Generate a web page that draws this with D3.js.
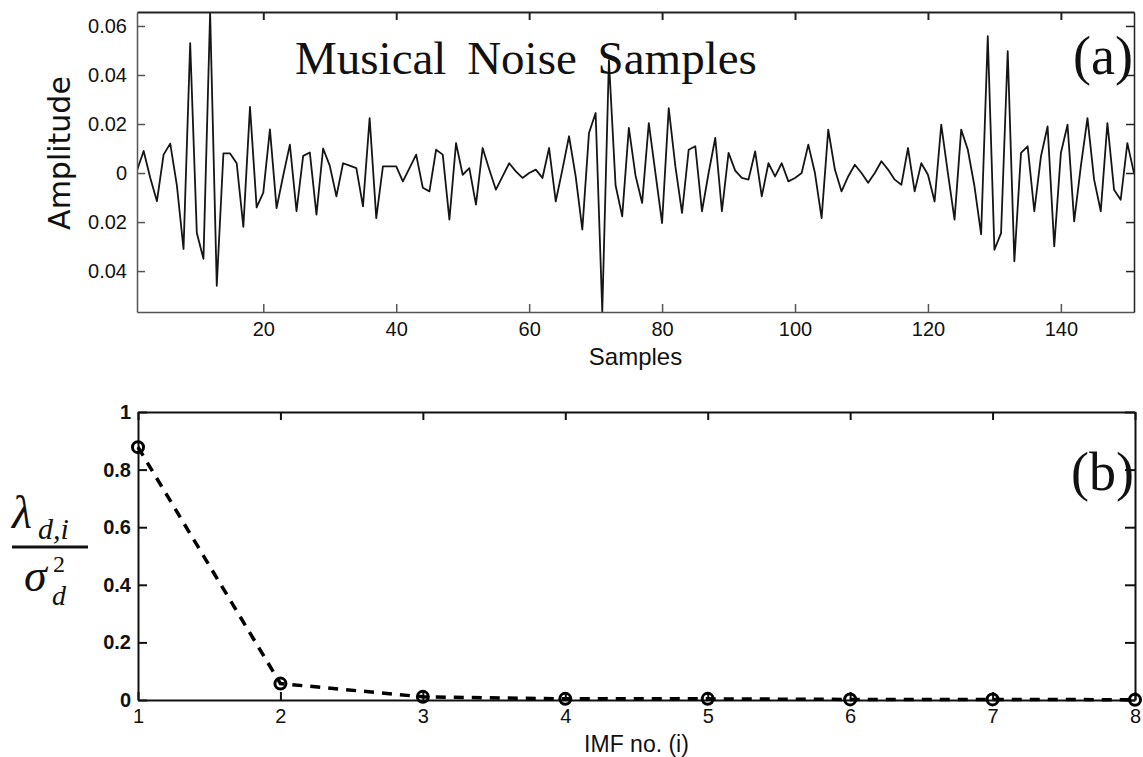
<!DOCTYPE html>
<html><head><meta charset="utf-8">
<script src="https://cdn.jsdelivr.net/npm/d3@7"></script>
<style>body{margin:0;background:#fff}svg{display:block}</style>
</head><body>
<svg id="c" width="1143" height="757"></svg>
<script>
// ---------- data ----------
const amplitude = [
 0.001, 0.009,-0.002,-0.0115, 0.0075, 0.012,-0.005,-0.031, 0.053,-0.0245,
-0.035, 0.0655,-0.046, 0.008, 0.008, 0.004,-0.022, 0.027,-0.014,-0.008,
 0.0178,-0.0143,-0.001, 0.0116,-0.0156, 0.007, 0.0084,-0.017, 0.010, 0.003,
-0.0095, 0.004, 0.003, 0.002,-0.0136, 0.0224,-0.0184, 0.0027, 0.0027, 0.0027,
-0.0034, 0.002, 0.0075,-0.006,-0.0075, 0.0095, 0.0075,-0.019, 0.0122,-0.0007,
 0.002,-0.0129, 0.0102, 0.0014,-0.0068,-0.0014, 0.004, 0.0007,-0.002, 0.0,
 0.0014,-0.002, 0.0102,-0.0116, 0.0014, 0.015,-0.0014,-0.0231, 0.0163, 0.0245,
-0.0565, 0.046,-0.005,-0.0177, 0.0184,-0.001,-0.0122, 0.0204, 0.0,-0.0204,
 0.0265, 0.0027,-0.0163, 0.0095, 0.0109,-0.0156, 0.0, 0.0143,-0.0156, 0.0082,
 0.001,-0.002,-0.0027, 0.0088,-0.0095, 0.004,-0.0014, 0.004,-0.0034,-0.002,
 0.0, 0.0116, 0.0,-0.0184, 0.0177, 0.0014,-0.0075,-0.0014, 0.0034, 0.0,
-0.004, 0.0, 0.0048, 0.0014,-0.0027,-0.0048, 0.0102,-0.0075, 0.004,-0.0007,
-0.0116, 0.0197, 0.0,-0.019, 0.0177, 0.0095,-0.0054,-0.025, 0.0558,-0.0313,
-0.0245, 0.0497,-0.036, 0.0082, 0.0109,-0.0156, 0.0068, 0.019,-0.0299, 0.0082,
 0.0197,-0.0197, 0.0027, 0.0224,-0.0027,-0.0156, 0.0204,-0.0068,-0.0109, 0.0122,
 0.0
];
const sampleTicks = [20, 40, 60, 80, 100, 120, 140];
const ampTicks = [-0.04, -0.02, 0, 0.02, 0.04, 0.06];
const ampTickLabels = ["0.04", "0.02", "0", "0.02", "0.04", "0.06"];

const imfNo = [1, 2, 3, 4, 5, 6, 7, 8];
const eigRatio = [0.878, 0.057, 0.011, 0.004, 0.004, 0.002, 0.002, 0.001];
const ratioTicks = [0, 0.2, 0.4, 0.6, 0.8, 1];
const ratioTickLabels = ["0", "0.2", "0.4", "0.6", "0.8", "1"];

// ---------- drawing ----------
const svg = d3.select("#c");
const sans = "Liberation Sans, Arial, Helvetica, sans-serif";
const sansWide = "DejaVu Sans, sans-serif";
const serif = "Liberation Serif, Times New Roman, serif";

// ===== Panel (a) =====
const A = {l:137, r:1134, t:12, b:312};
const xA = d3.scaleLinear().domain([1, amplitude.length]).range([A.l, A.r]);
const yA = d3.scaleLinear().domain([-0.0567, 0.0657]).range([A.b, A.t]);

svg.append("clipPath").attr("id","clipA").append("rect")
  .attr("x",A.l).attr("y",A.t).attr("width",A.r-A.l).attr("height",A.b-A.t);

svg.append("path").datum(amplitude)
  .attr("clip-path","url(#clipA)")
  .attr("fill","none").attr("stroke","#151515").attr("stroke-width",1.8)
  .attr("stroke-linejoin","round")
  .attr("d", d3.line().x((d,i)=>xA(i+1)).y(d=>yA(d)));

function styleAxis(g, col, w){
  g.select(".domain").attr("stroke",col).attr("stroke-width",w);
  g.selectAll(".tick line").attr("stroke",col).attr("stroke-width",w);
}
const gAxB = svg.append("g").attr("transform",`translate(0,${A.b})`)
  .call(d3.axisBottom(xA).tickValues(sampleTicks).tickSizeInner(-8).tickSizeOuter(0).tickPadding(10));
styleAxis(gAxB,"#555",1.5);
gAxB.selectAll("text").attr("font-family",sans).attr("font-size",20).attr("fill","#111");
const gAxT = svg.append("g").attr("transform",`translate(0,${A.t})`)
  .call(d3.axisTop(xA).tickValues(sampleTicks).tickSizeInner(-8).tickSizeOuter(0).tickFormat(""));
styleAxis(gAxT,"#222",2);
const gAxL = svg.append("g").attr("transform",`translate(${A.l},0)`)
  .call(d3.axisLeft(yA).tickValues(ampTicks).tickSizeInner(-8).tickSizeOuter(0).tickPadding(10)
    .tickFormat((d,i)=>ampTickLabels[i]));
styleAxis(gAxL,"#555",1.5);
gAxL.selectAll("text").attr("font-family",sans).attr("font-size",20).attr("fill","#111");
const gAxR = svg.append("g").attr("transform",`translate(${A.r},0)`)
  .call(d3.axisRight(yA).tickValues(ampTicks).tickSizeInner(-8).tickSizeOuter(0).tickFormat(""));
styleAxis(gAxR,"#222",1.5);

svg.append("text").attr("x",(A.l+A.r)/2).attr("y",365).attr("text-anchor","middle")
  .attr("font-family",sans).attr("font-size",24).attr("fill","#111").text("Samples");
svg.append("text").attr("transform","translate(70,153) rotate(-90)").attr("text-anchor","middle")
  .attr("font-family",sansWide).attr("font-size",30).attr("fill","#111").text("Amplitude");
svg.append("text").attr("x",295).attr("y",74)
  .attr("font-family",serif).attr("font-size",47).attr("fill","#111")
  .attr("word-spacing",9).text("Musical Noise Samples");
svg.append("text").attr("x",1133).attr("y",74).attr("text-anchor","end")
  .attr("font-family",serif).attr("font-size",54).attr("fill","#111").text("(a)");

// ===== Panel (b) =====
const B = {l:138, r:1135, t:412, b:700};
const xB = d3.scaleLinear().domain([1, 8]).range([B.l, B.r]);
const yB = d3.scaleLinear().domain([0, 1]).range([B.b, B.t]);

const gBB = svg.append("g").attr("transform",`translate(0,${B.b})`)
  .call(d3.axisBottom(xB).tickValues(imfNo).tickSizeInner(-8).tickSizeOuter(0).tickPadding(9).tickFormat(d3.format("d")));
styleAxis(gBB,"#111",2);
gBB.selectAll("text").attr("font-family",sans).attr("font-size",20).attr("fill","#111");
const gBT = svg.append("g").attr("transform",`translate(0,${B.t})`)
  .call(d3.axisTop(xB).tickValues(imfNo).tickSizeInner(-8).tickSizeOuter(0).tickFormat(""));
styleAxis(gBT,"#111",2);
const gBL = svg.append("g").attr("transform",`translate(${B.l},0)`)
  .call(d3.axisLeft(yB).tickValues(ratioTicks).tickSizeInner(-9).tickSizeOuter(0).tickPadding(7)
    .tickFormat((d,i)=>ratioTickLabels[i]));
styleAxis(gBL,"#111",2);
gBL.selectAll("text").attr("font-family",sans).attr("font-size",20).attr("font-weight","bold").attr("fill","#111");
const gBR = svg.append("g").attr("transform",`translate(${B.r},0)`)
  .call(d3.axisRight(yB).tickValues(ratioTicks).tickSizeInner(-10).tickSizeOuter(0).tickFormat(""));
styleAxis(gBR,"#111",2);

svg.append("path").datum(eigRatio)
  .attr("fill","none").attr("stroke","#000").attr("stroke-width",3.5)
  .attr("stroke-dasharray","10,8")
  .attr("d", d3.line().x((d,i)=>xB(imfNo[i])).y(d=>yB(d)));
svg.append("g").selectAll("circle").data(eigRatio).join("circle")
  .attr("cx",(d,i)=>xB(imfNo[i])).attr("cy",d=>yB(d)).attr("r",5.5)
  .attr("fill","none").attr("stroke","#000").attr("stroke-width",3);

svg.append("text").attr("x",(B.l+B.r)/2).attr("y",752).attr("text-anchor","middle")
  .attr("font-family",sans).attr("font-size",23).attr("fill","#111").text("IMF no. (i)");
svg.append("text").attr("x",1134).attr("y",490).attr("text-anchor","end")
  .attr("font-family",serif).attr("font-size",54).attr("fill","#111").text("(b)");

// y label: fraction lambda_{d,i} / sigma_d^2
const fl = svg.append("g").attr("font-family",serif).attr("font-style","italic").attr("fill","#111");
const num = fl.append("text").attr("x",12).attr("y",528).attr("font-size",46);
num.append("tspan").text("λ");
num.append("tspan").attr("x",38).attr("dy",11).attr("font-size",30).text("d,i");
fl.append("line").attr("x1",12).attr("x2",88).attr("y1",547).attr("y2",547)
  .attr("stroke","#111").attr("stroke-width",3);
fl.append("text").attr("x",24).attr("y",591).attr("font-size",46).text("σ");
fl.append("text").attr("x",53).attr("y",572).attr("font-size",24).attr("font-style","normal").text("2");
fl.append("text").attr("x",52).attr("y",605).attr("font-size",28).text("d");
</script>
</body></html>
